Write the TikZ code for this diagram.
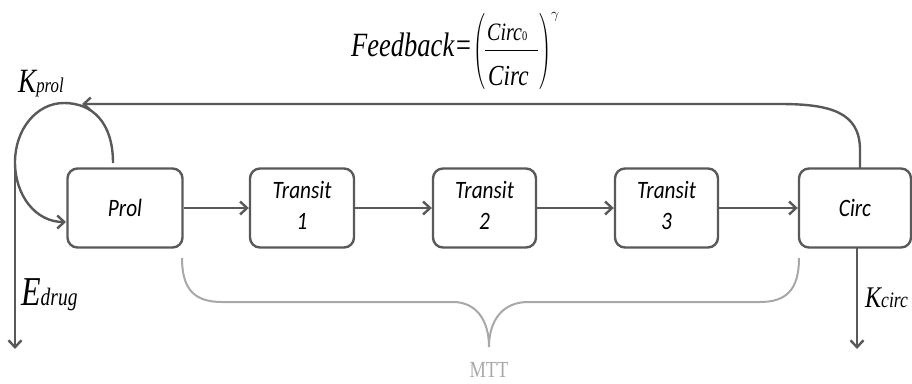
\documentclass[tikz,border=0pt]{standalone}
\usepackage{fontspec}
\usepackage{amsmath}
\usepackage{graphicx}
\setmainfont{Liberation Serif}
\newfontfamily\serifit{Liberation Serif}
\newfontfamily\boxfont{Carlito}
\usetikzlibrary{arrows.meta}
\definecolor{ln}{HTML}{595959}
\definecolor{bc}{HTML}{A8A8A8}
\newcommand\sqz[2][0.82]{\scalebox{#1}[1]{#2}}
\newcommand\twoline[2]{\sqz[0.85]{\begin{tabular}{@{}c@{}}#1\\#2\end{tabular}}}
\begin{document}
\begin{tikzpicture}[x=1pt,y=-1pt,
  stage/.style={draw=ln, line width=2.4pt, rounded corners=10pt, minimum height=79pt,
    align=center, font=\boxfont\itshape\fontsize{25}{31}\selectfont, inner sep=0pt},
  flow/.style={draw=ln, line width=2.4pt, -{Straight Barb[length=7pt,width=13pt]}},
  bracel/.style={draw=bc, line width=2pt},
  lab/.style={inner sep=0pt, anchor=base west},
  fml/.style={inner sep=0pt, anchor=base west, font=\serifit\itshape}
]
\useasboundingbox (0,0) rectangle (912,383);
% boxes
\node[stage, minimum width=115pt] (prol) at (125,208) {\sqz[0.85]{Prol}};
\node[stage, minimum width=104pt] (t1) at (302,208) {\twoline{Transit}{1}};
\node[stage, minimum width=103pt] (t2) at (484.5,208) {\twoline{Transit}{2}};
\node[stage, minimum width=103pt] (t3) at (666.5,208) {\twoline{Transit}{3}};
\node[stage, minimum width=112pt] (circ) at (855,208) {\sqz[0.85]{Circ}};
% chain arrows
\draw[flow] (prol) -- (t1);
\draw[flow] (t1) -- (t2);
\draw[flow] (t2) -- (t3);
\draw[flow] (t3) -- (circ);
% feedback line
\coordinate (fs) at (860,169);
\coordinate (kp) at (82,104);
\draw[flow] (fs) -- (860,150) .. controls (860,112) and (830,104) .. (780,104) -- (kp);
% proliferation loop
\coordinate (ls) at (113,163);
\coordinate (lend) at (66,222);
\draw[flow] (ls) .. controls (113,122) and (92,103) .. (64,103)
  .. controls (36,103) and (15,130) .. (15,162)
  .. controls (15,196) and (36,222) .. (lend);
% Edrug line
\coordinate (es) at (15,170);
\coordinate (ee) at (15,349);
\draw[flow] (es) -- (ee);
% Kcirc line
\coordinate (ks) at (857,248);
\coordinate (ke) at (857,349);
\draw[flow] (ks) -- (ke);
% labels
\node[fml] (kprol) at (18,92) {\sqz[0.8]{\fontsize{34}{34}\selectfont K\fontsize{21}{21}\selectfont prol}};
\node[fml] (edrug) at (21,305) {\sqz[0.78]{\fontsize{41}{41}\selectfont E\fontsize{25}{25}\selectfont drug}};
\node[fml] (kcirc) at (865,307) {\sqz[0.8]{\fontsize{30}{30}\selectfont K\fontsize{22}{22}\selectfont circ}};
% formula
\node[fml] (fb) at (351,56) {\sqz[0.78]{\fontsize{34}{36}\selectfont Feedback=}};
\node[inner sep=0pt] (lpar) at (479,51) {\resizebox*{12pt}{76pt}{\raisebox{\depth}{$\Biggl($}}};
\node[inner sep=0pt] (rpar) at (545,51) {\resizebox*{12pt}{76pt}{\raisebox{\depth}{$\Biggr)$}}};
\node[fml] (num) at (487,40) {\sqz[0.8]{\fontsize{25}{25}\selectfont Circ{\upshape\fontsize{13}{13}\selectfont 0}}};
\node[fml] (den) at (488,85) {\sqz[0.8]{\fontsize{29}{29}\selectfont Circ}};
\draw[line width=1pt] (num.south west |- 0,50) ++(-2,0) coordinate (fbl) -- (538,50) coordinate (fbr);
\node[inner sep=0pt, anchor=base west] (gam) at (551,18) {\fontsize{15}{15}\selectfont$\gamma$};
% brace
\coordinate (bl) at (182,258);
\coordinate (br) at (799,258);
\coordinate (bt) at (489,347);
\draw[bracel] (bl) .. controls (182,290) and (195,302) .. (222,302) -- (453,302)
  .. controls (476,302) and (489,320) .. (bt);
\draw[bracel] (br) .. controls (799,290) and (786,302) .. (760,302) -- (528,302)
  .. controls (503,302) and (489,320) .. (bt);
\node[text=bc, font=\fontsize{23}{23}\selectfont, inner sep=0pt] (mtt) at (489,370) {\sqz[0.8]{MTT}};
\end{tikzpicture}
\end{document}
